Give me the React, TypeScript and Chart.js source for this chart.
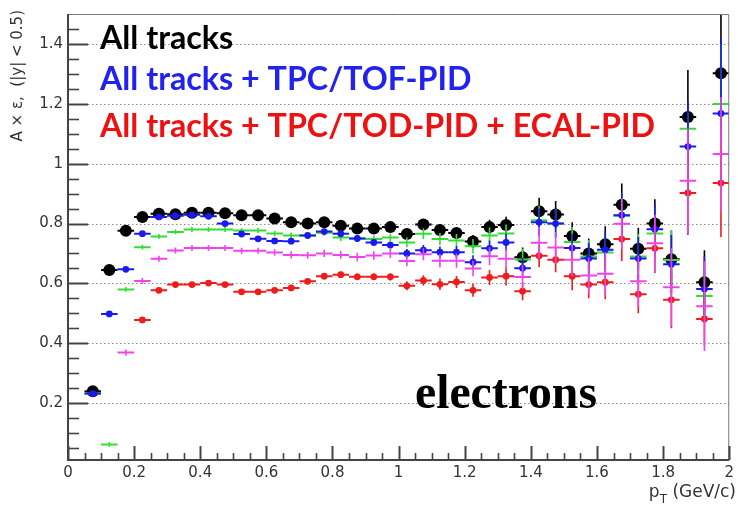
import React, { useEffect, useRef } from "react";
import { Chart, registerables } from "chart.js";

Chart.register(...registerables);

// ---------------- data ----------------
const binCenters = [
  0.075, 0.125, 0.175, 0.225, 0.275, 0.325, 0.375, 0.425, 0.475, 0.525,
  0.575, 0.625, 0.675, 0.725, 0.775, 0.825, 0.875, 0.925, 0.975, 1.025,
  1.075, 1.125, 1.175, 1.225, 1.275, 1.325, 1.375, 1.425, 1.475, 1.525,
  1.575, 1.625, 1.675, 1.725, 1.775, 1.825, 1.875, 1.925, 1.975,
];
const binHalfWidth = 0.025;

const allTracks = [
  0.24, 0.645, 0.776, 0.822, 0.833, 0.831, 0.836, 0.836, 0.834, 0.828,
  0.828, 0.817, 0.804, 0.8, 0.804, 0.793, 0.783, 0.783, 0.788, 0.765,
  0.797, 0.778, 0.768, 0.74, 0.788, 0.795, 0.687, 0.841, 0.83, 0.758,
  0.7, 0.731, 0.863, 0.716, 0.8, 0.681, 1.156, 0.604, 1.302,
];
const allTracksErr = [
  0.006, 0.006, 0.006, 0.006, 0.006, 0.006, 0.006, 0.006, 0.006, 0.006,
  0.007, 0.007, 0.008, 0.008, 0.008, 0.009, 0.01, 0.01, 0.011, 0.014,
  0.016, 0.018, 0.02, 0.022, 0.025, 0.028, 0.033, 0.045, 0.045, 0.046,
  0.05, 0.06, 0.071, 0.07, 0.081, 0.095, 0.157, 0.107, 0.26,
];

const greenSeries = [
  0.232, 0.062, 0.58, 0.721, 0.757, 0.772, 0.78, 0.78, 0.78, 0.777,
  0.777, 0.767, 0.76, 0.76, 0.769, 0.753, 0.75, 0.748, 0.753, 0.737,
  0.766, 0.748, 0.743, 0.724, 0.76, 0.767, 0.68, 0.811, 0.8, 0.738,
  0.69, 0.703, 0.826, 0.69, 0.767, 0.678, 1.117, 0.558, 1.199,
];
const greenErr = [
  0.006, 0.008, 0.008, 0.008, 0.008, 0.008, 0.008, 0.008, 0.008, 0.008,
  0.009, 0.009, 0.01, 0.01, 0.01, 0.011, 0.012, 0.012, 0.013, 0.016,
  0.018, 0.02, 0.022, 0.024, 0.027, 0.03, 0.036, 0.048, 0.048, 0.05,
  0.055, 0.066, 0.076, 0.075, 0.086, 0.1, 0.052, 0.082, 0.2,
];

const tpcTofPid = [
  0.232, 0.498, 0.647, 0.766, 0.822, 0.826, 0.829, 0.824, 0.8, 0.765,
  0.749, 0.742, 0.741, 0.76, 0.773, 0.766, 0.75, 0.737, 0.728, 0.7,
  0.711, 0.704, 0.704, 0.671, 0.717, 0.737, 0.651, 0.804, 0.8, 0.718,
  0.683, 0.712, 0.828, 0.683, 0.781, 0.664, 1.057, 0.581, 1.168,
];
const tpcTofPidErr = [
  0.006, 0.006, 0.006, 0.006, 0.006, 0.006, 0.006, 0.006, 0.006, 0.006,
  0.007, 0.007, 0.008, 0.008, 0.008, 0.009, 0.01, 0.01, 0.011, 0.015,
  0.017, 0.019, 0.021, 0.023, 0.026, 0.029, 0.034, 0.046, 0.046, 0.048,
  0.052, 0.062, 0.073, 0.072, 0.083, 0.098, 0.15, 0.11, 0.25,
];

const magentaSeries = [
  null, null, 0.369, 0.608, 0.682, 0.71, 0.718, 0.718, 0.718, 0.709,
  0.709, 0.703, 0.695, 0.694, 0.7, 0.695, 0.688, 0.693, 0.7, 0.675,
  0.697, 0.676, 0.676, 0.65, 0.691, 0.682, 0.621, 0.736, 0.72, 0.679,
  0.626, 0.632, 0.799, 0.607, 0.734, 0.587, 0.943, 0.524, 1.032,
];
const magentaErr = [
  0.008, 0.01, 0.01, 0.01, 0.01, 0.01, 0.01, 0.01, 0.01, 0.01,
  0.01, 0.011, 0.012, 0.012, 0.012, 0.013, 0.014, 0.014, 0.015, 0.018,
  0.02, 0.022, 0.024, 0.026, 0.03, 0.034, 0.04, 0.052, 0.052, 0.055,
  0.06, 0.072, 0.085, 0.085, 0.095, 0.13, 0.175, 0.15, 0.19,
];

const tpcTofEcalPid = [
  null, null, null, 0.478, 0.577, 0.596, 0.596, 0.601, 0.596, 0.572,
  0.572, 0.577, 0.585, 0.607, 0.624, 0.629, 0.622, 0.622, 0.622, 0.592,
  0.61, 0.597, 0.605, 0.577, 0.62, 0.624, 0.574, 0.692, 0.679, 0.624,
  0.596, 0.604, 0.748, 0.564, 0.717, 0.545, 0.902, 0.481, 0.935,
];
const tpcTofEcalPidErr = [
  0, 0, 0, 0.006, 0.006, 0.006, 0.006, 0.006, 0.006, 0.006,
  0.007, 0.007, 0.008, 0.009, 0.01, 0.01, 0.011, 0.011, 0.012, 0.015,
  0.017, 0.019, 0.02, 0.022, 0.025, 0.031, 0.03, 0.038, 0.042, 0.047,
  0.046, 0.057, 0.073, 0.064, 0.082, 0.095, 0.14, 0.09, 0.18,
];

const xTickValues = [0, 0.2, 0.4, 0.6, 0.8, 1, 1.2, 1.4, 1.6, 1.8, 2];
const xTickLabels = ["0", "0.2", "0.4", "0.6", "0.8", "1", "1.2", "1.4", "1.6", "1.8", "2"];
const yTickValues = [0.2, 0.4, 0.6, 0.8, 1, 1.2, 1.4];
const yTickLabels = ["0.2", "0.4", "0.6", "0.8", "1", "1.2", "1.4"];

const legendLines = [
  "All tracks",
  "All tracks + TPC/TOF-PID",
  "All tracks + TPC/TOD-PID + ECAL-PID",
];
const particleLabel = "electrons";
const yTitle = "A \u00d7 \u03b5,  (|y| < 0.5)";

// ---------------- style ----------------
const COLORS = {
  black: "#000000",
  green: "#33dd33",
  blue: "#1a1aee",
  magenta: "#ee44ee",
  red: "#ee1c1c",
};

function toPoints(values: (number | null)[]) {
  return binCenters.map((x, i) => ({ x, y: values[i] }));
}

const rootStyle = {
  id: "rootStyle",
  beforeDatasetsDraw(chart: any) {
    const { ctx, chartArea: a, scales } = chart;
    const ys = scales.y;
    ctx.save();
    ctx.strokeStyle = "#8c8c8c";
    ctx.lineWidth = 1;
    ctx.setLineDash([1.5, 2.5]);
    for (const v of yTickValues) {
      const py = Math.round(ys.getPixelForValue(v)) + 0.5;
      ctx.beginPath();
      ctx.moveTo(a.left, py);
      ctx.lineTo(a.right, py);
      ctx.stroke();
    }
    ctx.restore();
  },
  beforeDatasetDraw(chart: any, args: any) {
    const ds = chart.data.datasets[args.index];
    const { ctx, chartArea: a, scales } = chart;
    const xs = scales.x;
    const ys = scales.y;
    ctx.save();
    ctx.beginPath();
    ctx.rect(a.left, a.top, a.right - a.left, a.bottom - a.top);
    ctx.clip();
    ctx.strokeStyle = ds.errColor;
    for (let i = 0; i < binCenters.length; i++) {
      const v = ds.values[i];
      if (v == null) continue;
      const e = ds.errors[i];
      const px = xs.getPixelForValue(binCenters[i]);
      const xl = xs.getPixelForValue(binCenters[i] - binHalfWidth);
      const xr = xs.getPixelForValue(binCenters[i] + binHalfWidth);
      const py = ys.getPixelForValue(v);
      ctx.lineWidth = ds.hWidth;
      ctx.beginPath();
      ctx.moveTo(xl, py);
      ctx.lineTo(xr, py);
      ctx.stroke();
      if (e > 0) {
        ctx.lineWidth = ds.vWidth;
        ctx.beginPath();
        ctx.moveTo(px, ys.getPixelForValue(v + e));
        ctx.lineTo(px, ys.getPixelForValue(v - e));
        ctx.stroke();
      }
    }
    ctx.restore();
  },
  afterDatasetsDraw(chart: any) {
    const { ctx, chartArea: a, scales } = chart;
    const xs = scales.x;
    const ys = scales.y;
    ctx.save();
    ctx.strokeStyle = "#7a7a7a";
    ctx.lineWidth = 1;
    ctx.beginPath();
    ctx.moveTo(a.left, a.top + 0.5);
    ctx.lineTo(a.right - 0.5, a.top + 0.5);
    ctx.lineTo(a.right - 0.5, a.bottom);
    ctx.stroke();
    ctx.strokeStyle = "#444444";
    ctx.lineWidth = 2;
    ctx.beginPath();
    ctx.moveTo(a.left, a.top);
    ctx.lineTo(a.left, a.bottom);
    ctx.lineTo(a.right, a.bottom);
    ctx.stroke();
    for (let k = 1; k < 30; k++) {
      const v = k * 0.05;
      if (v < ys.min || v > ys.max) continue;
      const major = k % 4 === 0;
      const py = Math.round(ys.getPixelForValue(v)) + 0.5;
      ctx.lineWidth = major ? 2 : 1.6;
      ctx.beginPath();
      ctx.moveTo(a.left, py);
      ctx.lineTo(a.left + (major ? 20 : 11), py);
      ctx.stroke();
    }
    for (let k = 0; k <= 40; k++) {
      const v = k * 0.05;
      const major = k % 4 === 0;
      const px = Math.round(xs.getPixelForValue(v)) + 0.5;
      ctx.lineWidth = major ? 2 : 1.6;
      ctx.beginPath();
      ctx.moveTo(px, a.bottom);
      ctx.lineTo(px, a.bottom - (major ? 14 : 7));
      ctx.stroke();
    }
    ctx.restore();
  },
  afterDraw(chart: any) {
    const { ctx } = chart;
    ctx.save();
    ctx.font = "bold 100px Lato";
    const wLong = ctx.measureText(legendLines[2]).width;
    const size = (100 * 555) / wLong;
    ctx.font = `bold ${size.toFixed(2)}px Lato`;
    ctx.textAlign = "left";
    ctx.textBaseline = "alphabetic";
    const legendColors = ["#000000", "#2222ee", "#ee1111"];
    const baselines = [49, 90, 137];
    legendLines.forEach((t, i) => {
      ctx.fillStyle = legendColors[i];
      ctx.fillText(t, 100, baselines[i]);
    });
    ctx.font = "bold 100px 'Liberation Serif'";
    const we = ctx.measureText(particleLabel).width;
    const es = (100 * 182) / we;
    ctx.font = `bold ${es.toFixed(2)}px 'Liberation Serif'`;
    ctx.fillStyle = "#000000";
    ctx.fillText(particleLabel, 415, 408);
    ctx.save();
    ctx.translate(18, 10);
    ctx.rotate(-Math.PI / 2);
    ctx.font = "15px 'DejaVu Sans'";
    ctx.fillStyle = "#333333";
    ctx.textAlign = "right";
    ctx.textBaseline = "middle";
    ctx.fillText(yTitle, 0, 0);
    ctx.restore();
    ctx.fillStyle = "#333333";
    ctx.textAlign = "left";
    ctx.textBaseline = "alphabetic";
    ctx.font = "17px 'DejaVu Sans'";
    const rest = " (GeV/c)";
    const wRest = ctx.measureText(rest).width;
    const xEnd = 736;
    const xRest = xEnd - wRest;
    ctx.fillText(rest, xRest, 497);
    ctx.font = "12px 'DejaVu Sans'";
    const wT = ctx.measureText("T").width;
    const xT = xRest - wT;
    ctx.fillText("T", xT, 503);
    ctx.font = "17px 'DejaVu Sans'";
    const wp = ctx.measureText("p").width;
    ctx.fillText("p", xT - wp, 497);
    ctx.restore();
  },
};

export default function App() {
  const canvasRef = useRef<HTMLCanvasElement | null>(null);

  useEffect(() => {
    if (!canvasRef.current) return;
    const mk = (
      label: string,
      values: (number | null)[],
      errors: number[],
      color: string,
      radius: number,
      order: number,
      hWidth: number,
      vWidth: number
    ) => ({
      label,
      data: toPoints(values),
      values,
      errors,
      errColor: color,
      hWidth,
      vWidth,
      backgroundColor: color,
      borderColor: color,
      borderWidth: 0,
      pointRadius: radius,
      pointStyle: "circle",
      showLine: false,
      order,
    });
    const chart = new Chart(canvasRef.current, {
      type: "scatter",
      data: {
        datasets: [
          mk("All tracks", allTracks, allTracksErr, COLORS.black, 6, 5, 2, 1.6) as any,
          mk("green", greenSeries, greenErr, COLORS.green, 0, 4, 2, 1.6) as any,
          mk("All tracks + TPC/TOF-PID", tpcTofPid, tpcTofPidErr, COLORS.blue, 3.4, 3, 2, 1.6) as any,
          mk("All tracks + TPC/TOD-PID + ECAL-PID", tpcTofEcalPid, tpcTofEcalPidErr, COLORS.red, 3.4, 2, 2, 1.6) as any,
          mk("magenta", magentaSeries, magentaErr, COLORS.magenta, 0, 1, 2, 1.6) as any,
        ],
      },
      options: {
        animation: false,
        responsive: false,
        events: [],
        layout: { padding: { left: 0, right: 5, top: 8, bottom: 0 } },
        plugins: {
          legend: { display: false },
          tooltip: { enabled: false },
          title: { display: false },
        },
        scales: {
          x: {
            type: "linear",
            min: 0,
            max: 2,
            afterBuildTicks: (s: any) => {
              s.ticks = xTickValues.map((v) => ({ value: v }));
            },
            afterFit: (s: any) => {
              s.height = 46;
            },
            grid: { display: false, drawTicks: false },
            border: { display: false },
            ticks: {
              autoSkip: false,
              maxRotation: 0,
              padding: 4,
              color: "#333333",
              font: { family: "'DejaVu Sans'", size: 15 },
              callback: (_v: any, i: number) => xTickLabels[i],
            },
          },
          y: {
            type: "linear",
            min: 0.01,
            max: 1.5,
            afterBuildTicks: (s: any) => {
              s.ticks = yTickValues.map((v) => ({ value: v }));
            },
            afterFit: (s: any) => {
              s.width = 68;
            },
            grid: { display: false, drawTicks: false },
            border: { display: false },
            ticks: {
              autoSkip: false,
              padding: 5,
              color: "#333333",
              font: { family: "'DejaVu Sans'", size: 15 },
              callback: (_v: any, i: number) => yTickLabels[i],
            },
          },
        },
      } as any,
      plugins: [rootStyle as any],
    });
    return () => chart.destroy();
  }, []);

  return (
    <div style={{ position: "absolute", left: 0, top: 0, width: 738, height: 506, background: "#ffffff" }}>
      <canvas ref={canvasRef} width={738} height={506} style={{ display: "block" }} />
    </div>
  );
}
